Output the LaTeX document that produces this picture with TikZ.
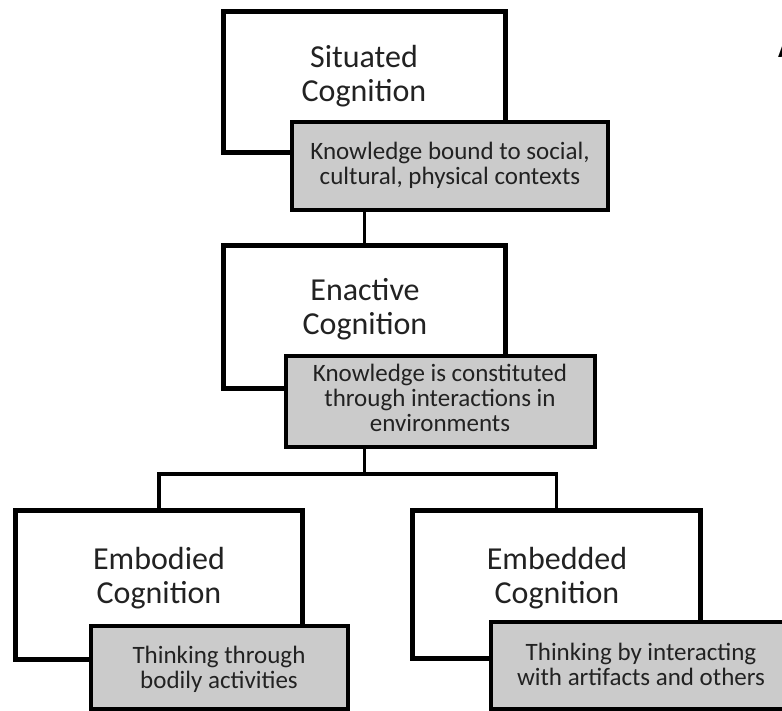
\documentclass[tikz,border=0pt]{standalone}
\usepackage{fontspec}
\setmainfont{Carlito}
\usetikzlibrary{shadows}
\definecolor{boxgray}{RGB}{203,203,203}
\definecolor{txt}{RGB}{34,34,34}
\tikzset{
  x=1pt, y=-1pt,
  cogbox/.style={draw=black, line width=5pt, fill=white, inner sep=0pt,
    drop shadow={shadow xshift=2pt, shadow yshift=-2pt, opacity=0.18}},
  graybox/.style={draw=black, line width=4pt, fill=boxgray, inner sep=0pt,
    drop shadow={shadow xshift=2pt, shadow yshift=-2pt, opacity=0.18}},
  titletext/.style={inner sep=0pt, align=center, text=txt,
    font=\fontsize{32}{34}\selectfont, anchor=base},
  bodytext/.style={inner sep=0pt, align=center, text=txt,
    font=\fontsize{25}{25}\selectfont, anchor=base},
  conn/.style={draw=black, line width=3.5pt}
}
\begin{document}
\begin{tikzpicture}
\useasboundingbox (0,0) rectangle (782,711);
\fill[white] (0,0) rectangle (782,711);

% cognition boxes
\node[cogbox, minimum width=282pt, minimum height=141pt] (sit) at (364.5,82) {};
\node[cogbox, minimum width=282pt, minimum height=143pt] (ena) at (364.5,317) {};
\node[cogbox, minimum width=287pt, minimum height=149pt] (emb) at (159,585) {};
\node[cogbox, minimum width=288pt, minimum height=148pt] (emd) at (556.5,584.5) {};

% (base anchor = baseline of the last line)
\node[titletext] (sitT) at (364,102) {Situated\\Cognition};
\node[titletext] (enaT) at (365,335) {Enactive\\Cognition};
\node[titletext] (embT) at (159,603) {Embodied\\Cognition};
\node[titletext] (emdT) at (557,603) {Embedded\\Cognition};

% connectors
\coordinate (jn) at (364,474);
\draw[conn] (sit.south) -- (ena.north);
\draw[conn] (ena.south |- 0,440) -- (ena.south |- jn);
\draw[conn, line cap=rect] (emb.north |- jn) -- (emd.north |- jn);
\draw[conn] (emb.north |- jn) -- (emb.north);
\draw[conn] (emd.north |- jn) -- (emd.north);

% gray boxes
\node[graybox, minimum width=316pt, minimum height=88pt] (g1) at (450,166) {};
\node[graybox, minimum width=309pt, minimum height=91pt] (g2) at (440.5,401.5) {};
\node[graybox, minimum width=257pt, minimum height=83pt] (g3) at (219.5,667.5) {};
\node[graybox, minimum width=299pt, minimum height=87pt] (g4) at (640.5,665.5) {};

\node[bodytext] (g1T) at (450,185) {Knowledge bound to social,\\cultural, physical contexts};
\node[bodytext] (g2T) at (440,431) {Knowledge is constituted\\through interactions in\\environments};
\node[bodytext] (g3T) at (219,688) {Thinking through\\bodily activities};
\node[bodytext] (g4T) at (641,685) {Thinking by interacting\\with artifacts and others};

\node[inner sep=0pt, anchor=base west, font=\fontsize{30}{30}\selectfont\bfseries] (lblA) at (778,58) {A};
\end{tikzpicture}
\end{document}
